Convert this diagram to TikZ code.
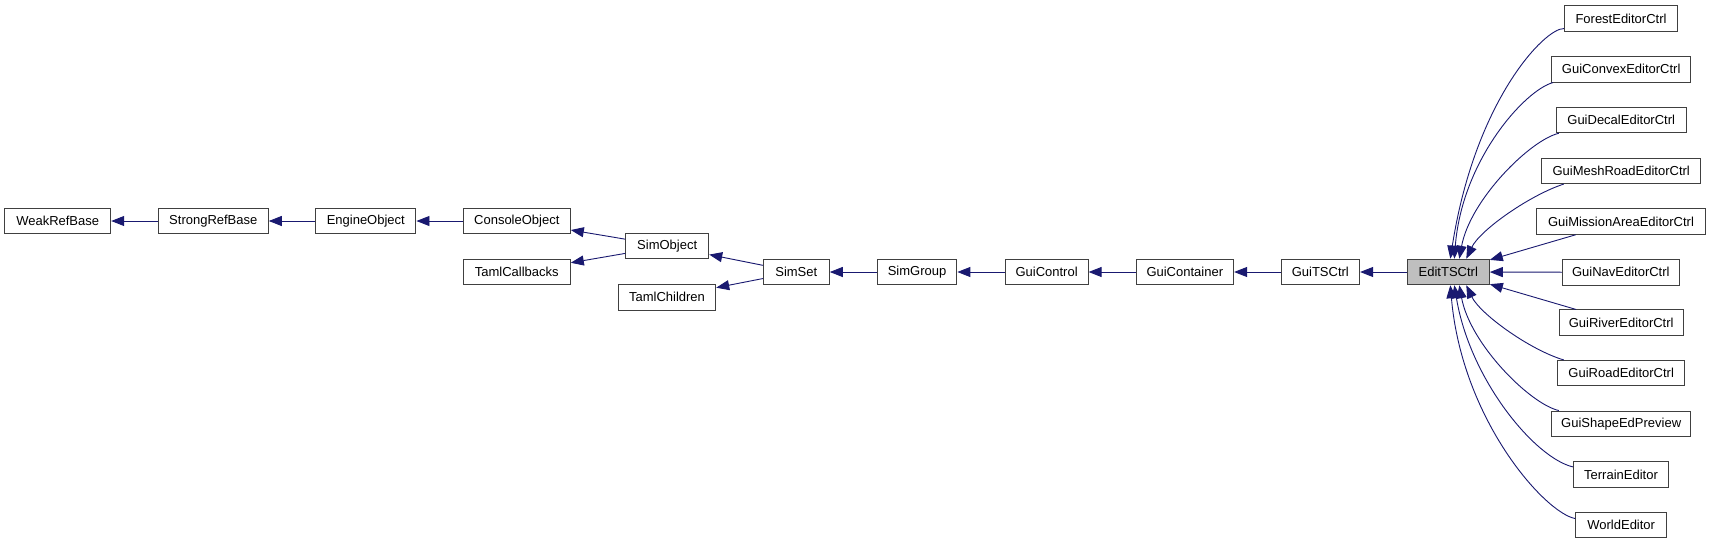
\documentclass[tikz,border=0pt]{standalone}
\usepackage{fontspec}
\setmainfont{Liberation Sans}
\usepackage{xcolor}
\usetikzlibrary{arrows.meta}
\definecolor{edgeblue}{HTML}{191970}
\definecolor{curgray}{HTML}{BFBFBF}

\begin{document}
\begin{tikzpicture}[
  x=1pt,y=-1pt,
  every node/.style={font=\fontsize{13}{15}\selectfont,align=center},
  cls/.style ={rectangle,draw=black!75,line width=1pt,minimum height=25.5pt,
               inner sep=0pt,fill=white},
  cur/.style ={cls,fill=curgray},
  arr/.style ={-{Triangle[length=13pt,width=10pt]},draw=edgeblue,
               line width=0.9pt},
]
\fill[white] (0,0) rectangle (1711,544);
\useasboundingbox (0,0) rectangle (1711,544);

\node[cls,minimum width=106pt]   at (57.7, 221)   (weak)     {WeakRefBase};
\node[cls,minimum width=110pt]   at (213.3,221)   (strong)   {StrongRefBase};
\node[cls,minimum width=100.3pt] at (365.8,221)   (engine)   {EngineObject};
\node[cls,minimum width=107pt]   at (516.8,221)   (console)  {ConsoleObject};
\node[cls,minimum width=107pt]   at (516.8,272)   (tamlcb)   {TamlCallbacks};
\node[cls,minimum width=83pt]    at (667.2,246.2) (simobj)   {SimObject};
\node[cls,minimum width=97.4pt]  at (667,  297.3) (tamlch)   {TamlChildren};
\node[cls,minimum width=66pt]    at (796.3,272)   (simset)   {SimSet};
\node[cls,minimum width=79.7pt]  at (917,  272)   (simgroup) {SimGroup};
\node[cls,minimum width=83pt]    at (1046.6,272)  (guictrl)  {GuiControl};
\node[cls,minimum width=97.6pt]  at (1184.8,272)  (guicont)  {GuiContainer};
\node[cls,minimum width=78.6pt]  at (1320.3,272)  (guits)    {GuiTSCtrl};
\node[cur,minimum width=82pt]    at (1448.3,272)  (edit)     {EditTSCtrl};

\node[cls,minimum width=113.4pt] at (1621,  18.5) (forest)   {ForestEditorCtrl};
\node[cls,minimum width=139pt]   at (1621.2,69.3) (convex)   {GuiConvexEditorCtrl};
\node[cls,minimum width=129.7pt] at (1621.2,120)  (decal)    {GuiDecalEditorCtrl};
\node[cls,minimum width=159pt]   at (1621.2,170.8)(meshroad) {GuiMeshRoadEditorCtrl};
\node[cls,minimum width=168.6pt] at (1621,  221.5)(mission)  {GuiMissionAreaEditorCtrl};
\node[cls,minimum width=117pt]   at (1620.8,272.3)(nav)      {GuiNavEditorCtrl};
\node[cls,minimum width=124.3pt] at (1621.2,322.7)(river)    {GuiRiverEditorCtrl};
\node[cls,minimum width=127pt]   at (1621.2,373.2)(road)     {GuiRoadEditorCtrl};
\node[cls,minimum width=139pt]   at (1621.2,423.8)(shape)    {GuiShapeEdPreview};
\node[cls,minimum width=95.4pt]  at (1621,  474.5)(terrain)  {TerrainEditor};
\node[cls,minimum width=91pt]    at (1621.2,525)  (world)    {WorldEditor};

\draw[arr] (strong)   -- (weak);
\draw[arr] (engine)   -- (strong);
\draw[arr] (console)  -- (engine);
\draw[arr] (simobj)   -- (console);
\draw[arr] (simobj)   -- (tamlcb);
\draw[arr] (simset)   -- (simobj);
\draw[arr] (simset)   -- (tamlch);
\draw[arr] (simgroup) -- (simset);
\draw[arr] (guictrl)  -- (simgroup);
\draw[arr] (guicont)  -- (guictrl);
\draw[arr] (guits)    -- (guicont);
\draw[arr] (edit)     -- (guits);

\draw[arr] (forest.190)   .. controls (1545,28) and (1475,100)  .. ([xshift=2pt]edit.north);
\draw[arr] (convex.191)   .. controls (1525,90) and (1462,160)  .. ([xshift=6pt]edit.north);
\draw[arr] (decal.192)    .. controls (1530,140) and (1470,200) .. ([xshift=11pt]edit.north);
\draw[arr] (meshroad.193) .. controls (1530,195) and (1480,230) .. ([xshift=18pt]edit.north);
\draw[arr] (mission) -- (edit);
\draw[arr] (nav)     -- (edit);
\draw[arr] (river)   -- (edit);
\draw[arr] (road.167)     .. controls (1530,350) and (1480,314) .. ([xshift=18pt]edit.south);
\draw[arr] (shape.168)    .. controls (1530,404) and (1470,344) .. ([xshift=11pt]edit.south);
\draw[arr] (terrain.171)  .. controls (1535,458) and (1470,380) .. ([xshift=6pt]edit.south);
\draw[arr] (world.172)    .. controls (1545,513) and (1462,420) .. ([xshift=2pt]edit.south);
\end{tikzpicture}
\end{document}
